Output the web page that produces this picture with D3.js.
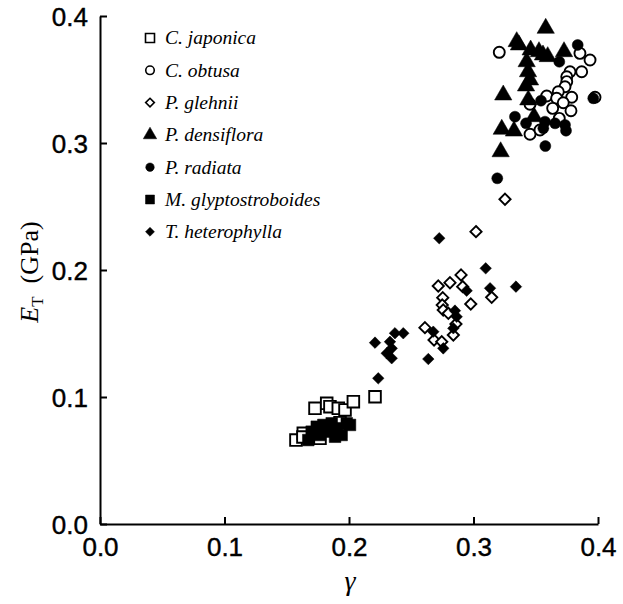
<!DOCTYPE html>
<html><head><meta charset="utf-8">
<script src="https://cdn.jsdelivr.net/npm/d3@7"></script>
<style>body{margin:0;background:#fff}</style>
</head><body>
<svg id="c" width="623" height="604"></svg>
<script>
const xTicks = [0.0, 0.1, 0.2, 0.3, 0.4];
const yTicks = [0.0, 0.1, 0.2, 0.3, 0.4];
const speciesNames = ["C. japonica","C. obtusa","P. glehnii","P. densiflora","P. radiata","M. glyptostroboides","T. heterophylla"];

const cJaponica = [[0.1727,0.0911],[0.1821,0.0950],[0.1847,0.0924],[0.1914,0.0911],[0.1968,0.0898],[0.2035,0.0963],[0.2209,0.1002],[0.1574,0.0661],[0.1633,0.0714],[0.1700,0.0675],[0.1767,0.0675],[0.1928,0.0798],[0.1630,0.0685]];
const cObtusa = [[0.3207,0.3714],[0.3855,0.3706],[0.3936,0.3654],[0.3775,0.3561],[0.3749,0.3522],[0.3869,0.3561],[0.3749,0.3483],[0.3735,0.3443],[0.3681,0.3404],[0.3588,0.3370],[0.3668,0.3352],[0.3789,0.3360],[0.3721,0.3317],[0.3454,0.3305],[0.3976,0.3360],[0.3636,0.3273],[0.3783,0.3254],[0.3689,0.3194],[0.3454,0.3069],[0.3534,0.3102]];
const pGlehnii = [[0.3253,0.2557],[0.3020,0.2302],[0.3146,0.1785],[0.2900,0.1961],[0.2811,0.1900],[0.2717,0.1874],[0.2913,0.1869],[0.2753,0.1782],[0.2978,0.1732],[0.2749,0.1724],[0.2757,0.1685],[0.2798,0.1659],[0.2859,0.1575],[0.2838,0.1488],[0.2610,0.1546],[0.2683,0.1449],[0.2745,0.1435]];
const pDensiflora = [[0.3580,0.3903],[0.3347,0.3798],[0.3365,0.3772],[0.3459,0.3732],[0.3526,0.3719],[0.3558,0.3693],[0.3596,0.3680],[0.3727,0.3719],[0.3427,0.3640],[0.3438,0.3561],[0.3454,0.3496],[0.3422,0.3449],[0.3239,0.3378],[0.3440,0.3339],[0.3486,0.3207],[0.3227,0.3108],[0.3325,0.3094],[0.3218,0.2931]];
const pRadiata = [[0.3837,0.3772],[0.3689,0.3640],[0.3542,0.3333],[0.3962,0.3352],[0.3333,0.3207],[0.3422,0.3155],[0.3574,0.3168],[0.3655,0.3155],[0.3735,0.3142],[0.3743,0.3097],[0.3561,0.3116],[0.3577,0.2976],[0.3191,0.2722]];
const mGlypto = [[0.1741,0.0766],[0.1794,0.0780],[0.1861,0.0793],[0.1982,0.0793],[0.2008,0.0780],[0.1901,0.0754],[0.1821,0.0727],[0.1941,0.0701],[0.1888,0.0687],[0.1700,0.0727],[0.1767,0.0701],[0.1673,0.0661]];
const tHetero = [[0.2725,0.2250],[0.3098,0.2013],[0.3133,0.1856],[0.3341,0.1869],[0.2945,0.1837],[0.2851,0.1680],[0.2865,0.1632],[0.2838,0.1541],[0.2677,0.1514],[0.2757,0.1383],[0.2637,0.1299],[0.2436,0.1502],[0.2369,0.1502],[0.2329,0.1435],[0.2209,0.1428],[0.2343,0.1383],[0.2303,0.1344],[0.2343,0.1305],[0.2235,0.1147]];

const seriesData = [cJaponica, cObtusa, pGlehnii, pDensiflora, pRadiata, mGlypto, tHetero];
const diamond = d3.symbolDiamond2 || d3.symbolDiamond;
const shapes = [d3.symbolSquare, d3.symbolCircle, diamond, d3.symbolTriangle, d3.symbolCircle, d3.symbolSquare, diamond];
const filled = [false, false, false, true, true, true, true];
const sizes = [135, 95, 80, 130, 95, 135, 85];

const svg = d3.select("#c");
const x = d3.scaleLinear().domain([0, 0.4]).range([100, 598]);
const y = d3.scaleLinear().domain([0, 0.4]).range([524, 16]);

// Axes
const gx = svg.append("g").attr("transform", "translate(0,524)")
  .call(d3.axisBottom(x).tickValues(xTicks).tickSize(-7).tickSizeOuter(0).tickPadding(14).tickFormat(d3.format(".1f")));
const gy = svg.append("g").attr("transform", "translate(100,0)")
  .call(d3.axisLeft(y).tickValues(yTicks).tickSize(-7).tickSizeOuter(0).tickPadding(12).tickFormat(d3.format(".1f")));
[gx, gy].forEach(g => {
  g.select(".domain").attr("stroke", "#000").attr("stroke-width", 2);
  g.selectAll(".tick line").attr("stroke", "#000").attr("stroke-width", 2);
  g.selectAll(".tick text").attr("font-family", "Liberation Sans, Arial, sans-serif").attr("font-size", 26).attr("fill", "#000")
    .attr("stroke", "#000").attr("stroke-width", 0.4);
});
gy.selectAll(".tick text").attr("dy", "0.36em");
gx.selectAll(".tick text").attr("dy", "0.71em");

// Axis titles
svg.append("text").attr("x", 350).attr("y", 590).attr("text-anchor", "middle")
  .attr("font-family", "Liberation Serif, Times New Roman, serif").attr("font-style", "italic").attr("font-size", 28).text("γ");
const yt = svg.append("text").attr("transform", "translate(38,272) rotate(-90)").attr("text-anchor", "middle")
  .attr("font-family", "Liberation Serif, Times New Roman, serif").attr("font-size", 26);
yt.append("tspan").attr("font-style", "italic").text("E");
yt.append("tspan").attr("font-size", 17).attr("dy", 5).text("T");
yt.append("tspan").attr("dy", -5).text("\u2002(GPa)");

// Points
seriesData.forEach((data, i) => {
  const sym = d3.symbol().type(shapes[i]).size(sizes[i]);
  svg.append("g").selectAll("path").data(data).join("path")
    .attr("transform", d => `translate(${x(d[0])},${y(d[1])})`)
    .attr("d", sym)
    .attr("fill", filled[i] ? "#000" : "#fff")
    .attr("stroke", "#000").attr("stroke-width", filled[i] ? 0.5 : 1.9);
});

// Legend
const leg = svg.append("g");
speciesNames.forEach((name, i) => {
  const ly = 38 + i * 32.3;
  leg.append("path").attr("transform", `translate(150,${ly})`)
    .attr("d", d3.symbol().type(shapes[i]).size(sizes[i] * 0.6))
    .attr("fill", filled[i] ? "#000" : "#fff")
    .attr("stroke", "#000").attr("stroke-width", filled[i] ? 0.5 : 1.6);
  leg.append("text").attr("x", 165).attr("y", ly).attr("dy", "0.33em")
    .attr("font-family", "Liberation Serif, Times New Roman, serif").attr("font-style", "italic").attr("font-size", 19.5)
    .text(name);
});
</script>
</body></html>
